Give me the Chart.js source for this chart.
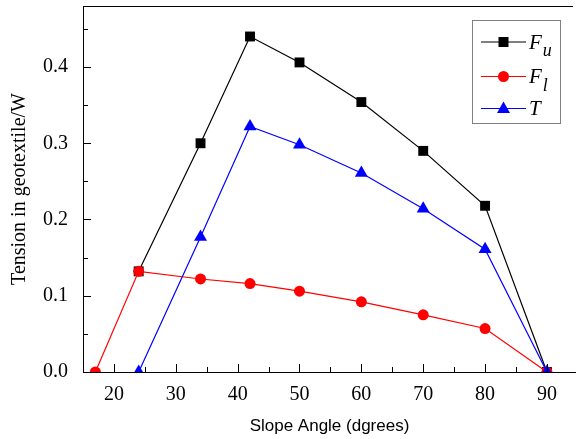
<!DOCTYPE html>
<html>
<head>
<meta charset="utf-8">
<script src="https://cdn.jsdelivr.net/npm/chart.js@4.4.1/dist/chart.umd.min.js"></script>
<style>
  html, body { margin: 0; padding: 0; background: #fff; }
  #wrap { width: 576px; height: 439px; }
</style>
</head>
<body>
<div id="wrap"><canvas id="tensionChart" width="576" height="439"></canvas></div>
<script>
// values
const angles = [17, 24, 34, 42, 50, 60, 70, 80, 90];
const fu = [null, 0.132, 0.300, 0.440, 0.406, 0.354, 0.290, 0.218, 0];
const fl = [0, 0.132, 0.122, 0.116, 0.106, 0.092, 0.075, 0.057, 0];
const tens = [null, 0, 0.177, 0.322, 0.298, 0.261, 0.214, 0.161, 0];

const xTicks = [20, 30, 40, 50, 60, 70, 80, 90];
const yTicks = [0, 0.1, 0.2, 0.3, 0.4];
const legendMain = ['F', 'F', 'T'];
const legendSub = ['u', 'l', ''];

const serif = '"Liberation Serif", "Times New Roman", serif';
const sans = '"Liberation Sans", Arial, sans-serif';

function toPoints(ys) {
  let pts = []
  angles.forEach((a, i) => {
    if (ys[i] !== null) pts.push({x: a, y: ys[i]})
  })
  return pts
}

function drawMarker(ctx, style, x, y, color) {
  ctx.fillStyle = color
  ctx.beginPath()
  if (style == 'rect') {
    ctx.rect(x - 5, y - 5, 10, 10)
  } else if (style == 'circle') {
    ctx.arc(x, y, 5.5, 0, Math.PI * 2)
  } else {
    ctx.moveTo(x, y - 7)
    ctx.lineTo(x + 6.5, y + 4.5)
    ctx.lineTo(x - 6.5, y + 4.5)
    ctx.closePath()
  }
  ctx.fill()
}

// inward ticks + top frame line, like the original plot
const frameTicks = {
  id: 'frameTicks',
  afterDraw(chart) {
    const ctx = chart.ctx
    const a = chart.chartArea
    const xs = chart.scales.x, ys = chart.scales.y
    ctx.save()
    ctx.strokeStyle = '#000'
    ctx.lineWidth = 1
    ctx.beginPath()
    ctx.moveTo(a.left, a.top + 0.5)
    ctx.lineTo(a.right - 3, a.top + 0.5)
    for (let v = 0; v <= 0.451; v += 0.05) {
      const py = Math.round(ys.getPixelForValue(v)) + 0.5
      const len = Math.abs(v * 10 - Math.round(v * 10)) < 0.01 ? 8 : 5
      ctx.moveTo(a.left, py)
      ctx.lineTo(a.left + len, py)
    }
    for (let v = 20; v <= 90; v += 5) {
      const px = Math.round(xs.getPixelForValue(v)) + 0.5
      const len = v % 10 == 0 ? 8 : 5
      ctx.moveTo(px, a.bottom)
      ctx.lineTo(px, a.bottom - len)
    }
    ctx.stroke()
    ctx.restore()
  }
}

// boxed legend with subscripts
const boxLegend = {
  id: 'boxLegend',
  afterDraw(chart) {
    const ctx = chart.ctx
    ctx.save()
    ctx.strokeStyle = '#808080'
    ctx.lineWidth = 1
    ctx.strokeRect(472.5, 20.5, 88, 103)
    const rows = [42, 76.5, 108.5]
    chart.data.datasets.forEach((ds, i) => {
      const y = rows[i]
      ctx.strokeStyle = ds.borderColor
      ctx.lineWidth = 1.2
      ctx.beginPath()
      ctx.moveTo(481, y)
      ctx.lineTo(526, y)
      ctx.stroke()
      drawMarker(ctx, ds.pointStyle, 503.5, y, ds.backgroundColor)
      ctx.fillStyle = '#000'
      ctx.textBaseline = 'alphabetic'
      ctx.font = 'italic 21px ' + serif
      ctx.fillText(legendMain[i], 529, y + 6.5)
      const w = ctx.measureText(legendMain[i]).width
      if (legendSub[i]) {
        ctx.font = 'italic 18px ' + serif
        ctx.fillText(legendSub[i], 529 + w + 1, y + 14)
      }
    })
    ctx.restore()
  }
}

function makeSet(label, ys, color, style, order) {
  return {
    label: label,
    data: toPoints(ys),
    borderColor: color,
    backgroundColor: color,
    borderWidth: 1.2,
    pointStyle: style,
    pointRadius: style == 'rect' ? 7 : (style == 'circle' ? 5.5 : 7.5),
    pointBorderWidth: 0,
    pointHoverRadius: 7,
    tension: 0,
    clip: 0,
    order: order
  }
}

function noPad(s) {
  s.paddingTop = 0
  s.paddingBottom = 0
  s.paddingLeft = 0
  s.paddingRight = 0
}

new Chart(document.getElementById('tensionChart'), {
  type: 'line',
  data: {
    datasets: [
      makeSet('Fu', fu, '#000000', 'rect', 3),
      makeSet('Fl', fl, '#ff0000', 'circle', 2),
      makeSet('T', tens, '#0000ff', 'triangle', 1)
    ]
  },
  options: {
    responsive: false,
    animation: false,
    layout: { autoPadding: false, padding: { top: 6, right: 0, left: 0, bottom: 0 } },
    plugins: {
      legend: { display: false },
      tooltip: { enabled: false }
    },
    scales: {
      x: {
        type: 'linear',
        min: 15,
        max: 94.7,
        afterFit: s => { s.height = 67; noPad(s) },
        afterBuildTicks: s => { s.ticks = xTicks.map(v => ({value: v})) },
        grid: { display: false },
        border: { display: true, color: '#000', width: 1 },
        ticks: {
          color: '#000',
          padding: 3,
          maxRotation: 0,
          font: { family: serif, size: 20 }
        },
        title: {
          display: true,
          text: 'Slope Angle (dgrees)',
          color: '#000',
          font: { family: sans, size: 17 },
          padding: { top: 0, bottom: 2 }
        }
      },
      y: {
        min: 0,
        max: 0.48,
        afterFit: s => { s.width = 83; noPad(s) },
        afterBuildTicks: s => { s.ticks = yTicks.map(v => ({value: v})) },
        grid: { display: false },
        border: { display: true, color: '#000', width: 1 },
        ticks: {
          color: '#000',
          padding: 7,
          font: { family: serif, size: 20 },
          callback: v => Number(v).toFixed(1)
        },
        title: {
          display: true,
          text: 'Tension in geotextile/W',
          color: '#000',
          font: { family: serif, size: 20 },
          padding: { top: 8, bottom: 0 }
        }
      }
    }
  },
  plugins: [frameTicks, boxLegend]
});
</script>
</body>
</html>
